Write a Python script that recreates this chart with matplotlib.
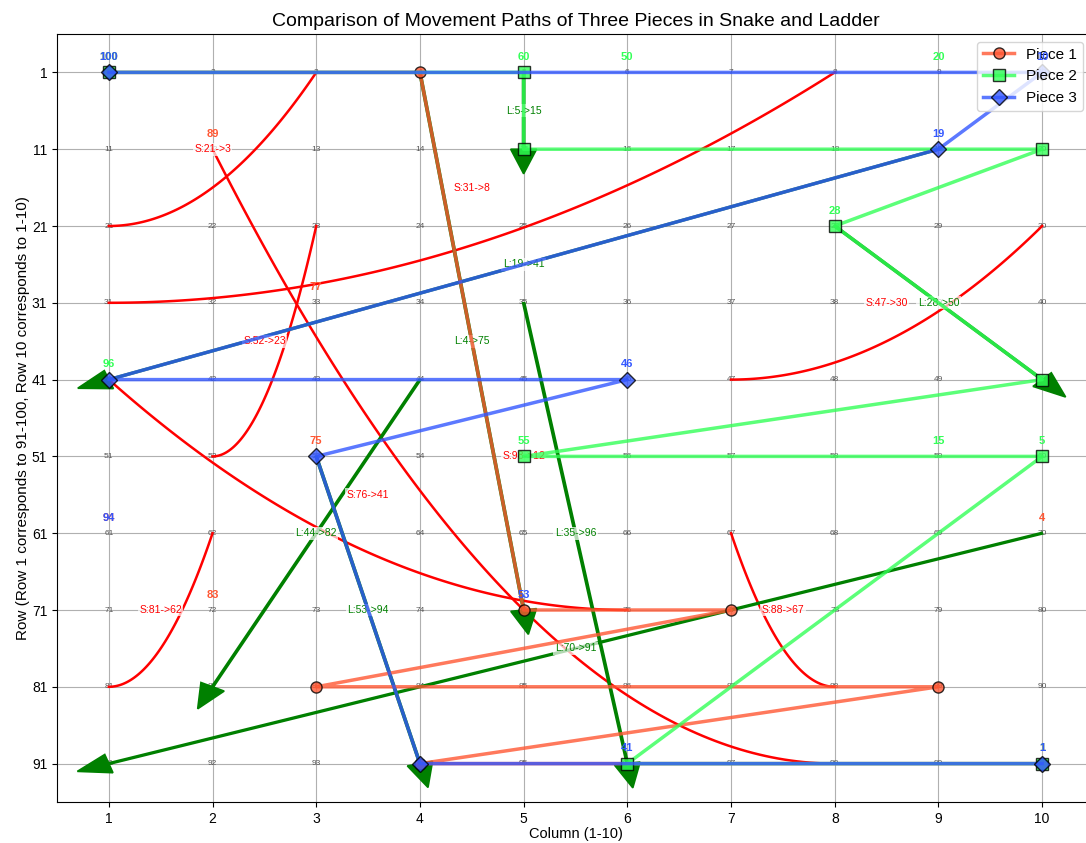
import numpy as np
import matplotlib.pyplot as plt

plt.rcParams['font.family'] = ['Liberation Sans', 'DejaVu Sans']

# snakes and ladders as (start cell, end cell)
snakes = [(21, 3), (31, 8), (47, 30), (52, 23), (76, 41), (81, 62), (88, 67), (98, 12)]
ladders = [(4, 75), (5, 15), (19, 41), (28, 50), (35, 96), (44, 82), (53, 94), (70, 91)]

# cells visited by each piece
piece_names = ['Piece 1', 'Piece 2', 'Piece 3']
piece1_path = [1, 4, 75, 77, 83, 89, 94, 100]
piece2_path = [1, 5, 15, 20, 28, 50, 55, 60, 96, 100]
piece3_path = [1, 10, 19, 41, 46, 53, 94, 100]
piece_colors = ['#FF5733', '#33FF57', '#3357FF']
piece_markers = ['o', 's', 'D']

col_ticks = list(range(1, 11))
row_tick_labels = list(range(1, 101, 10))


def cell_xy(n):
    # column / row of a cell on the drawn board
    return (n - 1) % 10 + 1, (n - 1) // 10 + 1


def label_xy(n):
    # where the position numbers of the pieces end up
    return 10 - (n - 1) // 10, 10 - (n - 1) % 10


def main():
    fig = plt.figure(figsize=(10.86, 8.43), dpi=100)
    ax = fig.add_axes([57 / 1086, 41 / 843, 1037 / 1086, 768 / 843])

    # cell numbers
    for n in range(1, 101):
        x, y = cell_xy(n)
        ax.text(x, y, str(n), fontsize=6, color='#555555', ha='center', va='center', zorder=1)

    # snakes as curved red lines
    t = np.linspace(0, 1, 100)
    for start, end in snakes:
        x1, y1 = cell_xy(start)
        x2, y2 = cell_xy(end)
        ax.plot(x1 + (x2 - x1) * t, y1 + (y2 - y1) * t ** 2, color='red', lw=1.8, zorder=2)
        ax.text((x1 + x2) / 2, (y1 + y2) / 2, f'S:{start}->{end}', fontsize=7.5, color='red',
                ha='center', va='center', zorder=4,
                bbox=dict(facecolor='white', alpha=0.7, edgecolor='none', pad=1))

    # ladders as green arrows
    for start, end in ladders:
        x1, y1 = cell_xy(start)
        x2, y2 = cell_xy(end)
        ax.arrow(x1, y1, x2 - x1, y2 - y1, width=0.02, head_width=0.25, head_length=0.32,
                 fc='green', ec='green', lw=1.2, zorder=3)
        ax.text((x1 + x2) / 2, (y1 + y2) / 2, f'L:{start}->{end}', fontsize=7.5, color='green',
                ha='center', va='center', zorder=4,
                bbox=dict(facecolor='white', alpha=0.7, edgecolor='none', pad=1))

    # piece paths
    paths = [piece1_path, piece2_path, piece3_path]
    for path, name, color, marker in zip(paths, piece_names, piece_colors, piece_markers):
        xs = [cell_xy(p)[0] for p in path]
        ys = [cell_xy(p)[1] for p in path]
        ax.plot(xs, ys, marker=marker, color=color, lw=2.5, alpha=0.8, markersize=8,
                markeredgecolor='black', label=name, zorder=5)
        for p in path:
            lx, ly = label_xy(p)
            ax.text(lx, ly - 0.2, str(p), fontsize=8, fontweight='bold', color=color,
                    ha='center', va='center', zorder=6)

    ax.set_xlim(0.5, 10.5)
    ax.set_ylim(10.5, 0.5)
    ax.set_xticks(col_ticks)
    ax.set_yticks(range(1, 11))
    ax.set_yticklabels(row_tick_labels)
    ax.grid(True)
    ax.set_axisbelow(True)
    ax.set_title('Comparison of Movement Paths of Three Pieces in Snake and Ladder', fontsize=14)
    ax.set_xlabel('Column (1-10)', fontsize=10.5, labelpad=1)
    ax.set_ylabel('Row (Row 1 corresponds to 91-100, Row 10 corresponds to 1-10)', fontsize=11,
                  labelpad=1)
    ax.legend(loc='upper right', bbox_to_anchor=(0.997, 1.0), fontsize=11)

    fig.savefig('out.png', dpi=100)


if __name__ == '__main__':
    main()
